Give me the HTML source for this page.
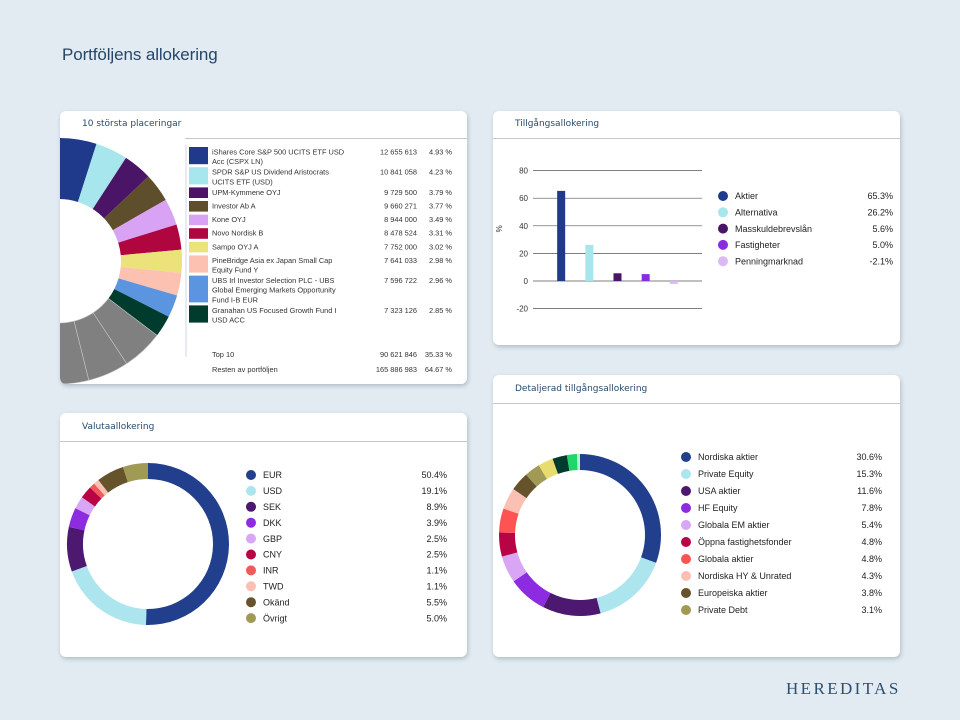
<!DOCTYPE html>
<html><head><meta charset="utf-8">
<style>
*{margin:0;padding:0;box-sizing:border-box}
body{width:960px;height:720px;background:#e2ebf2;font-family:"Liberation Sans",sans-serif;position:relative;overflow:hidden}
.title{position:absolute;left:62px;top:45px;font-size:17px;color:#24466b;font-family:"Liberation Sans",sans-serif;letter-spacing:-0.1px}
.card{position:absolute;background:#fff;border-radius:6px;box-shadow:1px 2px 4px rgba(80,100,120,.35);overflow:hidden}
.card h2{position:absolute;left:22px;font-size:9px;font-weight:normal;color:#274a6b;font-family:"DejaVu Sans","Liberation Sans",sans-serif}
.card .rule{position:absolute;left:0;right:0;height:1px;background:#c4c8cc}
.logo{position:absolute;left:786px;top:679px;font-family:"Liberation Serif",serif;font-size:17px;letter-spacing:2.4px;color:#2e4e70}
svg{position:absolute;left:0;top:0}
svg text{font-family:"Liberation Sans",sans-serif}
</style></head><body>
<div class="title">Portföljens allokering</div>

<div class="card" style="left:60px;top:111px;width:407px;height:273px">
  <h2 style="top:8px">10 största placeringar</h2>
  <div class="rule" style="top:27px;left:125px"></div>
  <svg id="hold" width="407" height="273"></svg>
</div>

<div class="card" style="left:493px;top:111px;width:407px;height:234px">
  <h2 style="top:8px">Tillgångsallokering</h2>
  <div class="rule" style="top:27px"></div>
  <svg id="bar" width="407" height="234"></svg>
</div>

<div class="card" style="left:60px;top:413px;width:407px;height:244px">
  <h2 style="top:9px">Valutaallokering</h2>
  <div class="rule" style="top:28px"></div>
  <svg id="cur" width="407" height="244"></svg>
</div>

<div class="card" style="left:493px;top:375px;width:407px;height:282px">
  <h2 style="top:9px">Detaljerad tillgångsallokering</h2>
  <div class="rule" style="top:28px"></div>
  <svg id="det" width="407" height="282"></svg>
</div>

<div class="logo">HEREDITAS</div>

<script>
// ---- data ----
const holdNames=[["iShares Core S&P 500 UCITS ETF USD","Acc (CSPX LN)"],["SPDR S&P US Dividend Aristocrats","UCITS ETF (USD)"],["UPM-Kymmene OYJ"],["Investor Ab A"],["Kone OYJ"],["Novo Nordisk B"],["Sampo OYJ A"],["PineBridge Asia ex Japan Small Cap","Equity Fund Y"],["UBS Irl Investor Selection PLC - UBS","Global Emerging Markets Opportunity","Fund I-B EUR"],["Granahan US Focused Growth Fund I","USD ACC"]];
const holdValues=["12 655 613","10 841 058","9 729 500","9 660 271","8 944 000","8 478 524","7 752 000","7 641 033","7 596 722","7 323 126"];
const holdPct=[4.93,4.23,3.79,3.77,3.49,3.31,3.02,2.98,2.96,2.85];
const holdColors=["#1f3a8a","#a8e6ee","#4a1467","#5e4e2b","#d9a3f5","#b0063f","#ebe27a","#fcc1b0","#5b95e0","#003c2e"];
const restPct=64.67;
const barCats=["Aktier","Alternativa","Masskuldebrevslån","Fastigheter","Penningmarknad"];
const barVals=[65.3,26.2,5.6,5.0,-2.1];
const barColors=["#1f3a8a","#a8e6ee","#4a1467","#8a2be2","#dcb8f5"];
const barTicks=[80,60,40,20,0,-20];
const curCats=["EUR","USD","SEK","DKK","GBP","CNY","INR","TWD","Okänd","Övrigt"];
const curVals=[50.4,19.1,8.9,3.9,2.5,2.5,1.1,1.1,5.5,5.0];
const curColors=["#223f8e","#ade5ee","#4d1870","#8d2be0","#d9a6f5","#b80445","#f05a5a","#fbc0b3","#66532c","#a09a55"];
const detCats=["Nordiska aktier","Private Equity","USA aktier","HF Equity","Globala EM aktier","Öppna fastighetsfonder","Globala aktier","Nordiska HY & Unrated","Europeiska aktier","Private Debt"];
const detVals=[30.6,15.3,11.6,7.8,5.4,4.8,4.8,4.3,3.8,3.1];
const detColors=["#223f8e","#ade5ee","#4d1870","#8d2be0","#d9a6f5","#b80445","#ff5252","#fbc0b3","#66532c","#a09a55"];
const detExtraVals=[3.0,2.9,2.0,0.6];
const detExtraColors=["#e8dc6e","#003c2e","#1fd66a","#b6f5c8"];

const NS="http://www.w3.org/2000/svg";
function mk(p,tag,attrs){const e=document.createElementNS(NS,tag);for(const k in attrs)e.setAttribute(k,attrs[k]);p.appendChild(e);return e;}
function arc(cx,cy,r0,r1,a0,a1){
  const f=a=>[Math.sin(a),-Math.cos(a)];
  const [s0x,s0y]=f(a0),[s1x,s1y]=f(a1);const lg=(a1-a0)>Math.PI?1:0;
  return `M${cx+r1*s0x},${cy+r1*s0y}A${r1},${r1} 0 ${lg} 1 ${cx+r1*s1x},${cy+r1*s1y}L${cx+r0*s1x},${cy+r0*s1y}A${r0},${r0} 0 ${lg} 0 ${cx+r0*s0x},${cy+r0*s0y}Z`;
}
function donut(svg,vals,colors,cx,cy,r0,r1,total,name,gap){
  let a=0;const t=total||vals.reduce((s,v)=>s+v,0);
  vals.forEach((v,i)=>{const da=v/t*2*Math.PI;
    const p=mk(svg,"path",{d:arc(cx,cy,r0,r1,a,a+da),fill:colors[i],stroke:gap||"none","stroke-width":gap?0.6:0});
    
    
    a+=da;});
  return a;
}
function legend(svg,cats,vals,colors,x,y,step,rx,name){
  cats.forEach((c,i)=>{const yy=y+i*step;
    const d=mk(svg,"circle",{cx:x,cy:yy,r:5,fill:colors[i]});
    
    
    const t=mk(svg,"text",{x:x+12,y:yy+3.2,"font-size":9,fill:"#222"});t.textContent=c;
    
    
    const v=mk(svg,"text",{x:rx,y:yy+3.2,"font-size":9,fill:"#222","text-anchor":"end"});v.textContent=vals[i].toFixed(1)+"%";
    
    
  });
}

// holdings
(function(){
  const svg=document.getElementById("hold");
  const cx=-1,cy=150,r0=62,r1=123,tot=100;
  const end=donut(svg,holdPct,holdColors,cx,cy,r0,r1,tot,"holding");
  const n=12,seg=restPct/n;let a=end;
  for(let i=0;i<n;i++){const da=seg/tot*2*Math.PI;
    const p=mk(svg,"path",{d:arc(cx,cy,r0,r1,a,a+da),fill:"#808080",stroke:"#c8c8c8","stroke-width":0.6});
    
    
    a+=da;}
  mk(svg,"rect",{x:125,y:28,width:282,height:245,fill:"#fff"});
  mk(svg,"line",{x1:126,y1:34,x2:126,y2:246,stroke:"#d0d8e6","stroke-width":1});
  let y=36;const lh=9.6;
  holdNames.forEach((ln,i)=>{
    const h=Math.max(ln.length,1)*lh+ (ln.length>1?1:4);
    const sw=mk(svg,"rect",{x:129,y:y,width:19,height:h-3,fill:holdColors[i]});
    
    
    ln.forEach((s,j)=>{const t=mk(svg,"text",{x:152,y:y+7.5+j*lh,"font-size":7.4,fill:"#333"});t.textContent=s;
      
      });
    const v=mk(svg,"text",{x:357,y:y+7.5,"font-size":7.4,fill:"#333","text-anchor":"end"});v.textContent=holdValues[i];
    
    
    const p=mk(svg,"text",{x:392,y:y+7.5,"font-size":7.4,fill:"#333","text-anchor":"end"});p.textContent=holdPct[i].toFixed(2)+" %";
    
    
    y+=h;
  });
  const rows=[["Top 10","90 621 846","35.33 %"],["Resten av portföljen","165 886 983","64.67 %"]];
  rows.forEach((r,i)=>{const yy=246+i*15;
    [[152,"start"],[357,"end"],[392,"end"]].forEach(([x,an],k)=>{const t=mk(svg,"text",{x:x,y:yy,"font-size":7.4,fill:"#333","text-anchor":an});t.textContent=r[k];
      
      });
  });
})();

// bar chart
(function(){
  const svg=document.getElementById("bar");
  const x0=40,x1=209,yZero=170,pxPer=27.6/20;
  const Y=v=>yZero-v*pxPer;
  barTicks.forEach(t=>{
    mk(svg,"line",{x1:x0,y1:Y(t),x2:x1,y2:Y(t),stroke:"#555","stroke-width":0.7});
    const l=mk(svg,"text",{x:x0-5,y:Y(t)+3,"font-size":8,fill:"#333","text-anchor":"end"});l.textContent=t;
    
    
  });
  const yl=mk(svg,"text",{x:0,y:0,"font-size":8,fill:"#333",transform:`translate(9,${Y(40)+3}) rotate(-90)`,"text-anchor":"middle"});yl.textContent="%";
  
  
  const bw=(x1-x0)/(barCats.length+1);
  barVals.forEach((v,i)=>{const cx=x0+bw*(i+1);
    const b=mk(svg,"rect",{x:cx-4,y:Math.min(Y(v),Y(0)),width:8,height:Math.abs(Y(v)-Y(0)),fill:barColors[i]});
    
    
  });
  legend(svg,barCats,barVals,barColors,230,85,16.3,400,"asset");
})();

// currency
(function(){
  const svg=document.getElementById("cur");
  donut(svg,curVals,curColors,88,131,65,81,null,"currency");
  legend(svg,curCats,curVals,curColors,191,62,15.9,387,"currency");
})();

// detailed
(function(){
  const svg=document.getElementById("det");
  const all=detVals.concat(detExtraVals),cols=detColors.concat(detExtraColors);
  donut(svg,all,cols,87,160,65,81,null,"detailed");
  legend(svg,detCats,detVals,detColors,193,82,17,389,"detailed");
})();
</script>
</body></html>
